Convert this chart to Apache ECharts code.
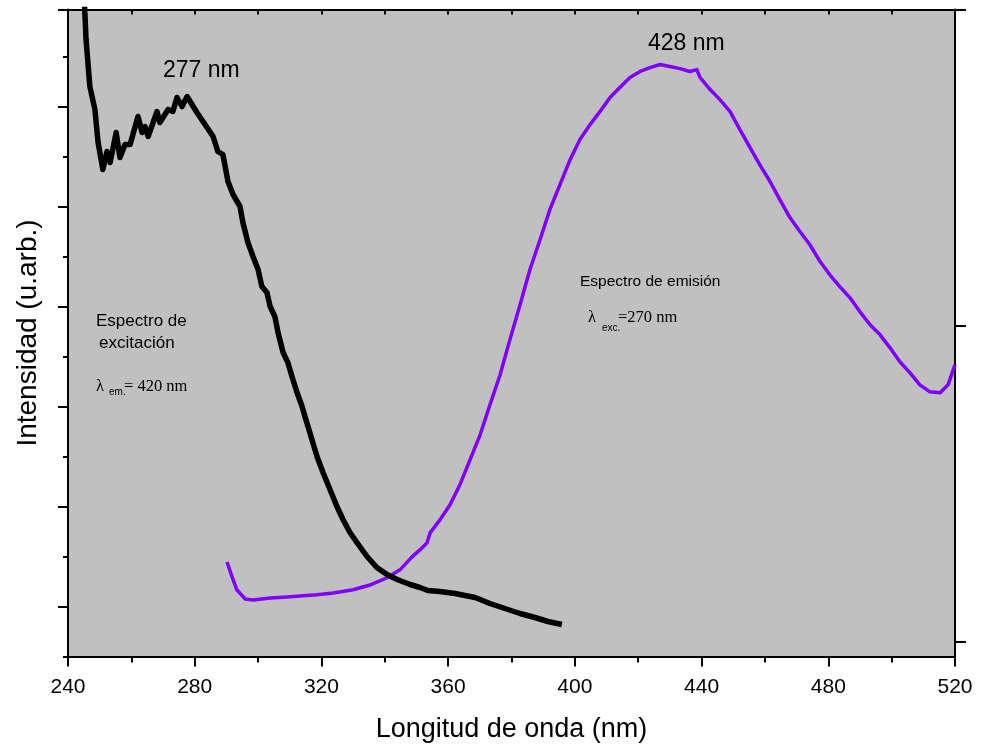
<!DOCTYPE html>
<html>
<head>
<meta charset="utf-8">
<title>Espectros de excitación y emisión</title>
<script src="https://cdn.jsdelivr.net/npm/echarts@6.0.0/dist/echarts.min.js"></script>
<style>
  html, body { margin: 0; padding: 0; background: #ffffff; }
  #chart { width: 981px; height: 750px; }
</style>
</head>
<body>
<div id="chart"></div>
<script>
// Wavelength axis
const xTicks = [240, 280, 320, 360, 400, 440, 480, 520];

// Excitation spectrum (λem = 420 nm), left intensity scale
const excWavelength = [
  245.0, 245.7, 246.9, 248.5, 249.5, 251.0, 252.3, 253.3, 255.2, 256.4,
  258.0, 259.6, 262.1, 263.4, 264.3, 265.3, 268.1, 269.0, 271.6, 273.1,
  274.4, 276.0, 277.6, 280.7, 283.9, 285.8, 287.3, 288.9, 290.5, 292.1,
  294.3, 295.2, 296.8, 298.4, 300.0, 301.2, 302.8, 303.8, 305.3, 306.3,
  307.9, 309.4, 310.7, 312.3, 313.9, 314.8, 317.0, 318.6, 320.5, 322.7,
  324.9, 326.8, 329.0, 331.2, 334.4, 337.5, 340.7, 343.9, 348.0, 351.1,
  353.6, 357.4, 362.2, 365.3, 368.5, 373.2, 377.9, 382.7, 387.4, 391.5,
  395.9
];
const excIntensity = [
  6.17, 5.67, 5.20, 4.97, 4.64, 4.37, 4.55, 4.44, 4.74, 4.49,
  4.62, 4.62, 4.90, 4.74, 4.80, 4.70, 4.95, 4.84, 4.97, 4.95,
  5.09, 5.00, 5.10, 4.94, 4.79, 4.70, 4.55, 4.52, 4.25, 4.12,
  4.00, 3.84, 3.64, 3.50, 3.37, 3.20, 3.14, 3.00, 2.90, 2.74,
  2.54, 2.44, 2.30, 2.14, 2.00, 1.90, 1.67, 1.50, 1.34, 1.17,
  1.00, 0.87, 0.74, 0.64, 0.50, 0.39, 0.32, 0.27, 0.22, 0.19,
  0.16, 0.15, 0.13, 0.11, 0.09, 0.03, -0.02, -0.07, -0.11, -0.15,
  -0.18
];

// Emission spectrum (λexc = 270 nm), right intensity scale
const emWavelength = [
  290.2, 291.8, 293.3, 295.9, 298.4, 303.8, 309.1, 314.2, 318.6, 323.7,
  330.0, 335.3, 340.7, 344.8, 348.6, 351.1, 353.3, 354.3, 357.4, 360.6,
  363.7, 366.9, 370.1, 373.2, 376.4, 379.5, 382.7, 385.8, 389.0, 392.1,
  395.3, 398.5, 401.6, 404.8, 407.9, 411.1, 414.2, 417.4, 420.6, 423.7,
  426.9, 430.0, 433.2, 436.3, 438.5, 439.5, 442.7, 445.8, 449.0, 452.1,
  455.3, 458.4, 461.6, 464.7, 467.9, 471.1, 474.2, 477.4, 480.5, 483.7,
  486.8, 490.0, 493.2, 496.3, 499.5, 502.6, 505.8, 508.9, 512.1, 515.3,
  517.8, 520.0
];
const emIntensity = [
  0.253, 0.206, 0.165, 0.136, 0.133, 0.139, 0.142, 0.146, 0.149, 0.155,
  0.165, 0.180, 0.203, 0.228, 0.269, 0.291, 0.313, 0.345, 0.386, 0.434,
  0.497, 0.576, 0.655, 0.750, 0.845, 0.956, 1.066, 1.177, 1.272, 1.367,
  1.446, 1.525, 1.589, 1.636, 1.677, 1.722, 1.753, 1.785, 1.804, 1.816,
  1.826, 1.820, 1.813, 1.804, 1.810, 1.785, 1.747, 1.715, 1.677, 1.620,
  1.563, 1.509, 1.456, 1.399, 1.342, 1.297, 1.256, 1.203, 1.161, 1.123,
  1.089, 1.044, 1.003, 0.972, 0.930, 0.886, 0.851, 0.813, 0.791, 0.788,
  0.813, 0.877
];

// Intensity axes tick positions (unlabelled)
const leftMajorTicks = [0, 1, 2, 3, 4, 5, 5.97];
const leftMinorTicks = [-0.5, 0.5, 1.5, 2.5, 3.5, 4.5, 5.5];
const rightTicks = [0, 1, 2];

const excData = excWavelength.map((x, i) => [x, excIntensity[i]]);
const emData = emWavelength.map((x, i) => [x, emIntensity[i]]);

const SANS = '"Liberation Sans", Arial, sans-serif';
const SERIF = '"Liberation Serif", "Times New Roman", serif';

const chart = echarts.init(document.getElementById('chart'), null, { renderer: 'canvas' });

chart.setOption({
  animation: false,
  backgroundColor: '#ffffff',
  grid: {
    left: 68, right: 26, top: 9.5, bottom: 93.5,
    show: true, backgroundColor: '#c0c0c0', borderWidth: 0
  },
  xAxis: [
    {
      type: 'value', position: 'bottom',
      min: xTicks[0], max: xTicks[xTicks.length - 1], interval: 40,
      name: 'Longitud de onda (nm)', nameLocation: 'middle', nameGap: 60,
      nameTextStyle: { fontFamily: SANS, fontSize: 27, color: '#000' },
      axisLine: { show: true, onZero: false, lineStyle: { color: '#000', width: 2 } },
      axisTick: { show: true, inside: false, length: 10, lineStyle: { color: '#000', width: 2 } },
      minorTick: { show: true, splitNumber: 2, length: 6, lineStyle: { color: '#000', width: 2 } },
      axisLabel: { show: true, margin: 20, fontFamily: SANS, fontSize: 21, color: '#000' },
      splitLine: { show: false }
    },
    {
      type: 'value', position: 'top',
      min: xTicks[0], max: xTicks[xTicks.length - 1], interval: 20,
      axisLine: { show: true, onZero: false, lineStyle: { color: '#000', width: 2 } },
      axisTick: { show: true, inside: true, length: 5, lineStyle: { color: '#000', width: 2 } },
      axisLabel: { show: false },
      splitLine: { show: false }
    }
  ],
  yAxis: [
    {
      type: 'value', position: 'left',
      min: -0.5, max: 5.97,
      name: 'Intensidad (u.arb.)', nameLocation: 'middle', nameGap: 26,
      nameTextStyle: { fontFamily: SANS, fontSize: 28, color: '#000' },
      axisLine: { show: true, onZero: false, lineStyle: { color: '#000', width: 2 } },
      axisTick: { show: true, inside: false, length: 10, customValues: leftMajorTicks,
                  lineStyle: { color: '#000', width: 2 } },
      axisLabel: { show: false, customValues: leftMajorTicks },
      splitLine: { show: false }
    },
    {
      type: 'value', position: 'left',
      min: -0.5, max: 5.97,
      axisLine: { show: false },
      axisTick: { show: true, inside: false, length: 5, customValues: leftMinorTicks,
                  lineStyle: { color: '#000', width: 2 } },
      axisLabel: { show: false, customValues: leftMinorTicks },
      splitLine: { show: false }
    },
    {
      type: 'value', position: 'right',
      min: -0.046, max: 2.0,
      axisLine: { show: true, onZero: false, lineStyle: { color: '#000', width: 2 } },
      axisTick: { show: true, inside: false, length: 11, customValues: rightTicks,
                  lineStyle: { color: '#000', width: 2 } },
      axisLabel: { show: false, customValues: rightTicks },
      splitLine: { show: false }
    }
  ],
  series: [
    {
      name: 'Espectro de excitación', type: 'line',
      xAxisIndex: 0, yAxisIndex: 0,
      data: excData, showSymbol: false, smooth: false, clip: true,
      lineStyle: { color: '#000000', width: 5.5, join: 'round' },
      z: 3
    },
    {
      name: 'Espectro de emisión', type: 'line',
      xAxisIndex: 0, yAxisIndex: 2,
      data: emData, showSymbol: false, smooth: false, clip: true,
      lineStyle: { color: '#8000ff', width: 3.5, join: 'round' },
      z: 2
    }
  ],
  graphic: [
    { type: 'text', left: 163, top: 59,
      style: { text: '277 nm', font: '23px ' + SANS, fill: '#000' } },
    { type: 'text', left: 648, top: 32,
      style: { text: '428 nm', font: '23px ' + SANS, fill: '#000' } },

    { type: 'text', left: 96, top: 313,
      style: { text: 'Espectro de', font: '17px ' + SANS, fill: '#000' } },
    { type: 'text', left: 99, top: 335,
      style: { text: 'excitación', font: '17px ' + SANS, fill: '#000' } },
    { type: 'text', left: 96, top: 378,
      style: { text: 'λ', font: '16.5px ' + SERIF, fill: '#000' } },
    { type: 'text', left: 109, top: 387,
      style: { text: 'em.', font: '10px ' + SANS, fill: '#000' } },
    { type: 'text', left: 124, top: 378,
      style: { text: '= 420 nm', font: '16.5px ' + SERIF, fill: '#000' } },

    { type: 'text', left: 580, top: 274,
      style: { text: 'Espectro de emisión', font: '15.5px ' + SANS, fill: '#000' } },
    { type: 'text', left: 588, top: 309,
      style: { text: 'λ', font: '16.5px ' + SERIF, fill: '#000' } },
    { type: 'text', left: 602, top: 323,
      style: { text: 'exc.', font: '10px ' + SANS, fill: '#000' } },
    { type: 'text', left: 618, top: 309,
      style: { text: '=270 nm', font: '16.5px ' + SERIF, fill: '#000' } }
  ]
});
</script>
</body>
</html>
